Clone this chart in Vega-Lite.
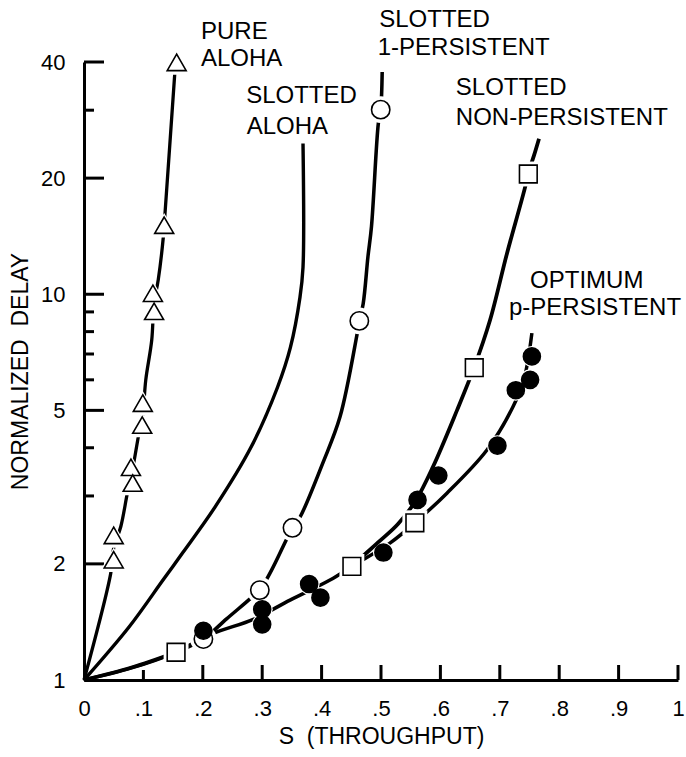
{
  "$schema": "https://vega.github.io/schema/vega-lite/v6.json",
  "width": 594,
  "height": 618,
  "autosize": {"type": "none"},
  "padding": {"left": 84, "top": 62, "right": 8, "bottom": 77},
  "background": "white",
  "config": {
    "view": {"stroke": null},
    "font": "Liberation Sans",
    "axis": {
      "domainColor": "black", "domainWidth": 3, "ticks": false,
      "labelColor": "black", "titleColor": "black", "labelFont": "Liberation Sans", "titleFont": "Liberation Sans",
      "labelFontSize": 22, "titleFontSize": 23, "titleFontWeight": "normal", "grid": false,
      "labelFlush": false, "labelOverlap": false
    }
  },
  "resolve": {"scale": {"shape": "independent", "size": "independent", "fill": "independent"}},
  "datasets": {
    "lines": [
      {"c": "pure", "x": 0, "y": 1}, {"c": "pure", "x": 0.045, "y": 1.89}, {"c": "pure", "x": 0.05, "y": 2.2},
      {"c": "pure", "x": 0.062, "y": 2.5}, {"c": "pure", "x": 0.073, "y": 3.05}, {"c": "pure", "x": 0.08, "y": 3.4},
      {"c": "pure", "x": 0.0926, "y": 4.37}, {"c": "pure", "x": 0.099, "y": 4.9}, {"c": "pure", "x": 0.104, "y": 6.0},
      {"c": "pure", "x": 0.114, "y": 7.6}, {"c": "pure", "x": 0.118, "y": 9.5}, {"c": "pure", "x": 0.125, "y": 10.9},
      {"c": "pure", "x": 0.1335, "y": 14.05}, {"c": "pure", "x": 0.1365, "y": 16.3}, {"c": "pure", "x": 0.153, "y": 37.7},

      {"c": "slotted", "x": 0, "y": 1}, {"c": "slotted", "x": 0.0758, "y": 1.372}, {"c": "slotted", "x": 0.133, "y": 1.816},
      {"c": "slotted", "x": 0.1658, "y": 2.133}, {"c": "slotted", "x": 0.2205, "y": 2.806},
      {"c": "slotted", "x": 0.2811, "y": 4.01}, {"c": "slotted", "x": 0.3258, "y": 5.74}, {"c": "slotted", "x": 0.3476, "y": 7.29},
      {"c": "slotted", "x": 0.3636, "y": 9.82}, {"c": "slotted", "x": 0.3687, "y": 11.75}, {"c": "slotted", "x": 0.3687, "y": 24.6},

      {"c": "one", "x": 0, "y": 1}, {"c": "one", "x": 0.08, "y": 1.075}, {"c": "one", "x": 0.155, "y": 1.18},
      {"c": "one", "x": 0.201, "y": 1.277}, {"c": "one", "x": 0.24, "y": 1.44}, {"c": "one", "x": 0.281, "y": 1.63},
      {"c": "one", "x": 0.296, "y": 1.71}, {"c": "one", "x": 0.316, "y": 1.93}, {"c": "one", "x": 0.351, "y": 2.48},
      {"c": "one", "x": 0.364, "y": 2.65}, {"c": "one", "x": 0.402, "y": 3.65}, {"c": "one", "x": 0.431, "y": 4.81},
      {"c": "one", "x": 0.459, "y": 7.77}, {"c": "one", "x": 0.4635, "y": 8.53}, {"c": "one", "x": 0.47, "y": 9.45},
      {"c": "one", "x": 0.478, "y": 12.5}, {"c": "one", "x": 0.484, "y": 15}, {"c": "one", "x": 0.4955, "y": 27.7},
      {"c": "one", "x": 0.4995, "y": 30.1}, {"c": "one", "x": 0.502, "y": 37.7},

      {"c": "non1", "x": 0, "y": 1}, {"c": "non1", "x": 0.08, "y": 1.077}, {"c": "non1", "x": 0.155, "y": 1.18},

      {"c": "non2", "x": 0.451, "y": 1.97}, {"c": "non2", "x": 0.468, "y": 2.084}, {"c": "non2", "x": 0.498, "y": 2.293},
      {"c": "non2", "x": 0.5286, "y": 2.537}, {"c": "non2", "x": 0.5589, "y": 2.925}, {"c": "non2", "x": 0.5875, "y": 3.57},
      {"c": "non2", "x": 0.6279, "y": 5.0}, {"c": "non2", "x": 0.6566, "y": 6.45}, {"c": "non2", "x": 0.6835, "y": 8.56},
      {"c": "non2", "x": 0.7121, "y": 12.76}, {"c": "non2", "x": 0.7424, "y": 18.9}, {"c": "non2", "x": 0.7475, "y": 20.5},
      {"c": "non2", "x": 0.7576, "y": 22.9}, {"c": "non2", "x": 0.766, "y": 25.3},

      {"c": "p", "x": 0.155, "y": 1.18}, {"c": "p", "x": 0.2155, "y": 1.316}, {"c": "p", "x": 0.2862, "y": 1.439},
      {"c": "p", "x": 0.3468, "y": 1.611}, {"c": "p", "x": 0.4141, "y": 1.816}, {"c": "p", "x": 0.451, "y": 1.97},
      {"c": "p", "x": 0.515, "y": 2.263}, {"c": "p", "x": 0.557, "y": 2.556}, {"c": "p", "x": 0.611, "y": 3.05},
      {"c": "p", "x": 0.678, "y": 3.94}, {"c": "p", "x": 0.722, "y": 5.1}, {"c": "p", "x": 0.741, "y": 6.05},
      {"c": "p", "x": 0.754, "y": 7.93}
    ],
    "markers": [
      {"m": "tri", "x": 0.156, "y": 39.9}, {"m": "tri", "x": 0.135, "y": 15.1}, {"m": "tri", "x": 0.116, "y": 10.06},
      {"m": "tri", "x": 0.118, "y": 9.03}, {"m": "tri", "x": 0.099, "y": 5.22}, {"m": "tri", "x": 0.098, "y": 4.58},
      {"m": "tri", "x": 0.079, "y": 3.56}, {"m": "tri", "x": 0.082, "y": 3.24}, {"m": "tri", "x": 0.05, "y": 2.37},
      {"m": "tri", "x": 0.05, "y": 2.05},
      {"m": "circ", "x": 0.201, "y": 1.277}, {"m": "circ", "x": 0.296, "y": 1.71}, {"m": "circ", "x": 0.351, "y": 2.48},
      {"m": "circ", "x": 0.4635, "y": 8.53}, {"m": "circ", "x": 0.4995, "y": 30.1},
      {"m": "sq", "x": 0.155, "y": 1.18}, {"m": "sq", "x": 0.451, "y": 1.97}, {"m": "sq", "x": 0.557, "y": 2.556},
      {"m": "sq", "x": 0.657, "y": 6.45}, {"m": "sq", "x": 0.748, "y": 20.5},
      {"m": "dot", "x": 0.201, "y": 1.342}, {"m": "dot", "x": 0.3, "y": 1.525}, {"m": "dot", "x": 0.3, "y": 1.394},
      {"m": "dot", "x": 0.379, "y": 1.773}, {"m": "dot", "x": 0.398, "y": 1.635}, {"m": "dot", "x": 0.504, "y": 2.14},
      {"m": "dot", "x": 0.5615, "y": 2.93}, {"m": "dot", "x": 0.5965, "y": 3.39}, {"m": "dot", "x": 0.696, "y": 4.05},
      {"m": "dot", "x": 0.727, "y": 5.64}, {"m": "dot", "x": 0.751, "y": 6.0}, {"m": "dot", "x": 0.754, "y": 6.9}
    ],
    "labels": [
      {"t": "PURE", "x": 0.197, "y": 45.96}, {"t": "ALOHA", "x": 0.197, "y": 39.04},
      {"t": "SLOTTED", "x": 0.273, "y": 31.25}, {"t": "ALOHA", "x": 0.274, "y": 26.08},
      {"t": "SLOTTED", "x": 0.497, "y": 49.27}, {"t": "1-PERSISTENT", "x": 0.4945, "y": 41.62},
      {"t": "SLOTTED", "x": 0.626, "y": 32.77}, {"t": "NON-PERSISTENT", "x": 0.626, "y": 27.41},
      {"t": "OPTIMUM", "x": 0.751, "y": 10.36}, {"t": "p-PERSISTENT", "x": 0.7155, "y": 8.82}
    ],
    "yticks": [
      {"y": 2, "x": 0, "x2": 0.0337}, {"y": 5, "x": 0, "x2": 0.0337}, {"y": 10, "x": 0, "x2": 0.0337},
      {"y": 20, "x": 0, "x2": 0.0337}, {"y": 40, "x": 0, "x2": 0.0337},
      {"y": 3, "x": 0, "x2": 0.0168}, {"y": 4, "x": 0, "x2": 0.0168}, {"y": 6, "x": 0, "x2": 0.0168},
      {"y": 7, "x": 0, "x2": 0.0168}, {"y": 8, "x": 0, "x2": 0.0168}, {"y": 9, "x": 0, "x2": 0.0168},
      {"y": 30, "x": 0, "x2": 0.0168}
    ],
    "xticks": [
      {"x": 0.1, "y": 1, "y2": 1.0615}, {"x": 0.2, "y": 1, "y2": 1.0936}, {"x": 0.3, "y": 1, "y2": 1.0936},
      {"x": 0.4, "y": 1, "y2": 1.0936}, {"x": 0.5, "y": 1, "y2": 1.0936}, {"x": 0.6, "y": 1, "y2": 1.0936},
      {"x": 0.7, "y": 1, "y2": 1.0936}, {"x": 0.8, "y": 1, "y2": 1.0936}, {"x": 0.9, "y": 1, "y2": 1.0936},
      {"x": 1, "y": 1, "y2": 1.0936}
    ]
  },
  "encoding": {
    "x": {
      "field": "x", "type": "quantitative",
      "scale": {"domain": [0, 1], "nice": false, "zero": false},
      "axis": {
        "title": "S\u00a0 (THROUGHPUT)",
        "values": [0, 0.1, 0.2, 0.3, 0.4, 0.5, 0.6, 0.7, 0.8, 0.9, 1],
        "labelExpr": "replace(format(datum.value, '.1~f'), '0.', '.')",
        "labelPadding": 18, "titlePadding": 6
      }
    },
    "y": {
      "field": "y", "type": "quantitative",
      "scale": {"type": "log", "domain": [1, 40], "nice": false},
      "axis": {
        "title": "NORMALIZED\u00a0 DELAY",
        "values": [1, 2, 5, 10, 20, 40],
        "format": "d",
        "labelPadding": 19, "titlePadding": 8
      }
    }
  },
  "layer": [
    {
      "data": {"name": "yticks"},
      "mark": {"type": "rule", "color": "black", "strokeWidth": 3},
      "encoding": {"x2": {"field": "x2"}}
    },
    {
      "data": {"name": "xticks"},
      "mark": {"type": "rule", "color": "black", "strokeWidth": 3},
      "encoding": {"y2": {"field": "y2"}}
    },
    {
      "data": {"name": "lines"},
      "transform": [{"filter": "datum.c == 'p'"}],
      "mark": {"type": "line", "color": "black", "strokeWidth": 3.5, "interpolate": "catmull-rom"},
      "encoding": {"order": {"field": "y", "type": "quantitative"}, "detail": {"field": "c"}}
    },
    {
      "data": {"name": "markers"},
      "transform": [{"filter": "datum.m == 'dot'"}],
      "mark": {"type": "point", "filled": true, "color": "white", "opacity": 1, "shape": "circle", "size": 440, "strokeWidth": 0}
    },
    {
      "data": {"name": "lines"},
      "transform": [{"filter": "datum.c != 'p'"}],
      "mark": {"type": "line", "color": "black", "interpolate": "catmull-rom"},
      "encoding": {
        "order": {"field": "y", "type": "quantitative"},
        "detail": {"field": "c"},
        "strokeWidth": {"field": "c", "type": "nominal", "scale": {"domain": ["pure", "slotted", "one", "non1", "non2"], "range": [3.3, 3.8, 2.8, 5, 3.3]}, "legend": null}
      }
    },
    {
      "data": {"name": "markers"},
      "transform": [{"filter": "datum.m != 'dot'"}],
      "mark": {"type": "point", "filled": true, "color": "white", "opacity": 1, "strokeWidth": 0},
      "encoding": {
        "shape": {"field": "m", "type": "nominal", "scale": {"domain": ["tri", "circ", "sq"], "range": ["triangle-up", "circle", "square"]}, "legend": null},
        "size": {"field": "m", "type": "nominal", "scale": {"domain": ["tri", "circ", "sq"], "range": [800, 620, 640]}, "legend": null}
      }
    },
    {
      "data": {"name": "markers"},
      "mark": {"type": "point", "filled": true, "stroke": "black", "strokeWidth": 1.6, "opacity": 1},
      "encoding": {
        "shape": {"field": "m", "type": "nominal", "scale": {"domain": ["tri", "circ", "sq", "dot"], "range": ["triangle-up", "circle", "square", "circle"]}, "legend": null},
        "size": {"field": "m", "type": "nominal", "scale": {"domain": ["tri", "circ", "sq", "dot"], "range": [360, 290, 300, 175]}, "legend": null},
        "fill": {"field": "m", "type": "nominal", "scale": {"domain": ["tri", "circ", "sq", "dot"], "range": ["white", "white", "white", "black"]}, "legend": null}
      }
    },
    {
      "data": {"name": "labels"},
      "mark": {"type": "text", "align": "left", "baseline": "alphabetic", "font": "Liberation Sans", "fontSize": 24, "color": "black"},
      "encoding": {"text": {"field": "t"}}
    }
  ]
}
